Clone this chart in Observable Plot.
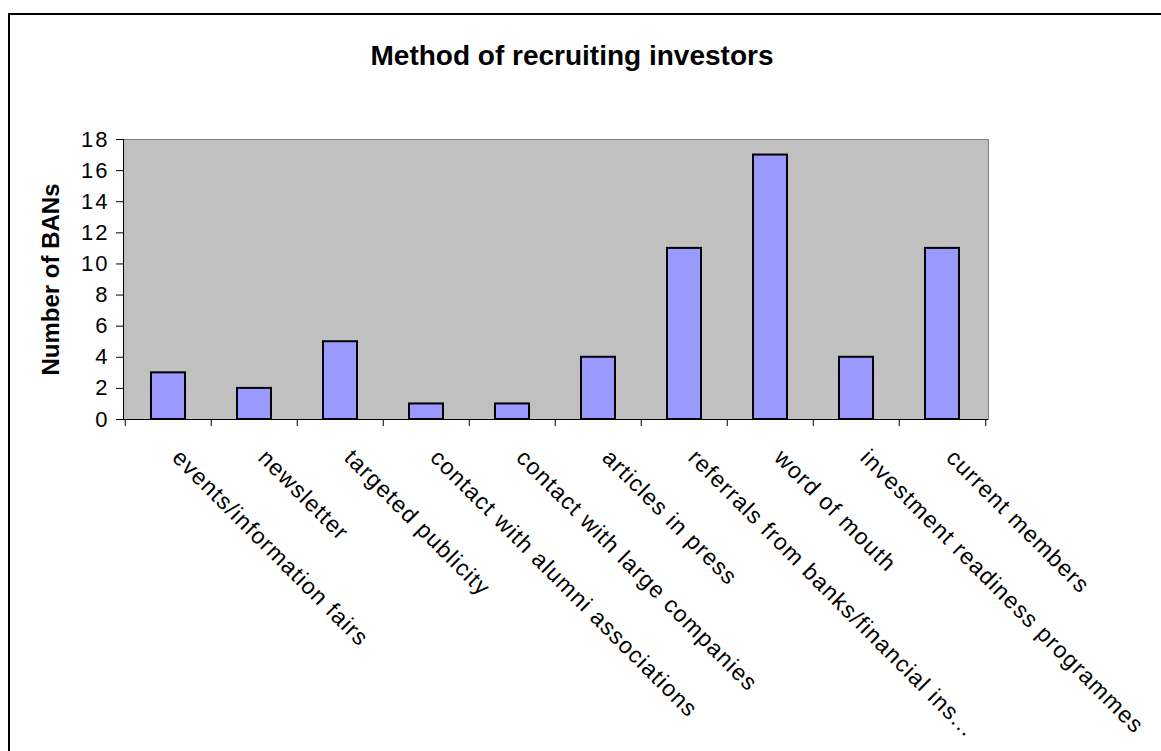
<!DOCTYPE html>
<html><head><meta charset="utf-8">
<script src="https://cdn.jsdelivr.net/npm/d3@7"></script>
<script src="https://cdn.jsdelivr.net/npm/@observablehq/plot@0.6"></script>
<style>
html,body{margin:0;padding:0;background:#fff;overflow:hidden}
#wrap{position:relative;width:1161px;height:751px;overflow:hidden}
#border{position:absolute;left:8px;top:13px;width:1200px;height:800px;border:2px solid #000;box-sizing:border-box}
#chart{position:absolute;left:0;top:0}
</style></head><body><div id="wrap"><div id="border"></div><div id="chart"></div></div>
<script>
const title = "Method of recruiting investors";
const yLabel = "Number of BANs";
const categories = [
  "events/information fairs",
  "newsletter",
  "targeted publicity",
  "contact with alumni associations",
  "contact with large companies",
  "articles in press",
  "referrals from banks/financial ins...",
  "word of mouth",
  "investment readiness programmes",
  "current members"
];
const values = [3, 2, 5, 1, 1, 4, 11, 17, 4, 11];
const yTicks = [0, 2, 4, 6, 8, 10, 12, 14, 16, 18];
const yDomain = [0, 18];

const data = categories.map((c, i) => ({category: c, value: values[i]}));
const W = 1161, H = 751, mL = 123, mR = 173, mT = 139, mB = 332;
const step = (W - mL - mR) / categories.length;

const plot = Plot.plot({
  width: W, height: H,
  marginLeft: mL, marginRight: mR, marginTop: mT, marginBottom: mB,
  style: {fontFamily: "'Liberation Sans', Arial, sans-serif", background: "transparent", color: "#000", overflow: "visible", letterSpacing: "1.2px"},
  x: {domain: categories, paddingInner: 0.6, paddingOuter: 0.3, axis: null},
  y: {domain: yDomain, axis: null},
  marks: [
    Plot.frame({fill: "#C0C0C0", stroke: "#808080"}),
    Plot.barY(data, {x: "category", y: "value", fill: "#9999FF", stroke: "#000", strokeWidth: 2}),
    Plot.ruleY([0], {stroke: "#000"}),
    Plot.axisY({ticks: yTicks, tickSize: 7, tickPadding: 7, fontSize: 22, label: null, stroke: "#000", fill: "#000"}),
    Plot.frame({anchor: "left", stroke: "#000"}),
    Plot.ruleX(categories, {x: d => d, y1: d => 0, y2: d => 0, insetBottom: -7, dx: -step / 2, stroke: "#000"}),
    Plot.ruleX([categories[categories.length - 1]], {x: d => d, y1: d => 0, y2: d => 0, insetBottom: -7, dx: step / 2, stroke: "#000"}),
    Plot.text(data, {x: "category", y: d => 0, text: "category", rotate: 45, textAnchor: "start", lineAnchor: "top", dx: 14, dy: 28, fontSize: 23, fill: "#000"}),
    Plot.text([yLabel], {frameAnchor: "left", rotate: -90, dx: 51 - mL, fontSize: 24, fontWeight: "bold", textAnchor: "middle", lineAnchor: "middle", fill: "#000"}),
    Plot.text([title], {frameAnchor: "top", dy: -83, dx: 16, fontSize: 28, fontWeight: "bold", textAnchor: "middle", lineAnchor: "middle", fill: "#000"})
  ]
});
d3.select(plot).selectAll("text").each(function() {
  const t = this.textContent;
  if (t === title || t === yLabel) this.style.letterSpacing = "0px";
});
d3.select(plot).selectAll('g[aria-label="y-axis tick label"] text').style("letter-spacing", "2px");
document.getElementById("chart").appendChild(plot);
</script></body></html>
